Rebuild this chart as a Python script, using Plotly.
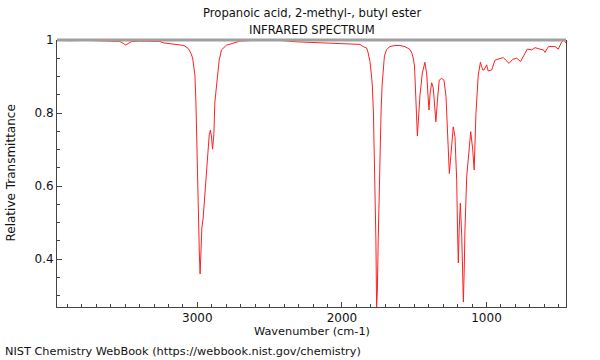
import plotly.graph_objects as go

# Wavenumber (cm-1) and relative transmittance
wavenumber = [
    3970, 3882, 3778, 3675, 3571, 3536, 3509, 3495, 3481, 3453, 3398, 3329, 3260, 3232, 3190,
    3149, 3121, 3093, 3064, 3045, 3033, 3024, 3017, 3010, 3001, 2992, 2986, 2981, 2976, 2969,
    2960, 2948, 2932, 2918, 2910, 2903, 2895, 2886, 2879, 2867, 2849, 2833, 2798, 2754, 2706,
    2602, 2521, 2429, 2314, 2187, 2083, 1945, 1876, 1853, 1829, 1820, 1806, 1796, 1790, 1782,
    1772, 1765, 1760, 1755, 1749, 1743, 1736, 1729, 1722, 1714, 1706, 1691, 1668, 1633, 1599,
    1564, 1529, 1516, 1507, 1498, 1491, 1484, 1478, 1471, 1460, 1444, 1426, 1414, 1405, 1398,
    1389, 1379, 1368, 1358, 1350, 1339, 1327, 1310, 1294, 1280, 1269, 1257, 1249, 1241, 1230,
    1218, 1206, 1201, 1195, 1189, 1181, 1171, 1166, 1160, 1154, 1149, 1137, 1126, 1109, 1095,
    1085, 1073, 1064, 1057, 1042, 1026, 1017, 999, 988, 964, 941, 907, 884, 867, 844,
    819, 791, 764, 746, 718, 687, 664, 630, 607, 595, 572, 526, 503, 480, 464, 452,
]
transmittance = [
    0.999, 0.998, 0.999, 0.997, 0.997, 0.996, 0.990, 0.986, 0.990, 0.996, 0.997, 0.997, 0.996, 0.992, 0.990,
    0.989, 0.988, 0.985, 0.977, 0.964, 0.951, 0.929, 0.904, 0.830, 0.649, 0.501, 0.411, 0.359, 0.397, 0.485,
    0.512, 0.575, 0.666, 0.740, 0.753, 0.737, 0.701, 0.740, 0.830, 0.885, 0.945, 0.973, 0.986, 0.991, 0.997,
    0.999, 1.000, 0.999, 0.995, 0.993, 0.991, 0.989, 0.988, 0.982, 0.978, 0.967, 0.941, 0.904, 0.877, 0.800,
    0.640, 0.452, 0.268, 0.315, 0.452, 0.589, 0.699, 0.808, 0.877, 0.929, 0.956, 0.974, 0.982, 0.985, 0.985,
    0.982, 0.974, 0.964, 0.951, 0.929, 0.877, 0.795, 0.737, 0.781, 0.849, 0.909, 0.939, 0.909, 0.849, 0.808,
    0.858, 0.883, 0.868, 0.822, 0.776, 0.836, 0.890, 0.895, 0.890, 0.845, 0.753, 0.634, 0.671, 0.708, 0.762,
    0.735, 0.616, 0.493, 0.389, 0.479, 0.553, 0.461, 0.370, 0.282, 0.370, 0.479, 0.625, 0.680, 0.749, 0.699,
    0.644, 0.799, 0.863, 0.904, 0.939, 0.918, 0.918, 0.932, 0.915, 0.918, 0.945, 0.948, 0.952, 0.945, 0.936,
    0.947, 0.950, 0.941, 0.954, 0.975, 0.973, 0.979, 0.975, 0.973, 0.966, 0.982, 0.982, 0.975, 0.995, 1.000, 0.992,
]

title_line1 = "Propanoic acid, 2-methyl-, butyl ester"
title_line2 = "INFRARED SPECTRUM"
x_title = "Wavenumber (cm-1)"
y_title = "Relative Transmittance"
footer = "NIST Chemistry WebBook (https://webbook.nist.gov/chemistry)"

x_range = [3971, 450]
y_range = [0.2685, 1.0]

FONT = "DejaVu Sans"
AXIS_COLOR = "#444444"
TEXT_COLOR = "#111111"

fig = go.Figure()
fig.add_trace(go.Scatter(
    x=wavenumber, y=transmittance, mode="lines",
    line=dict(color="#ff2020", width=1),
    hoverinfo="x+y", showlegend=False,
))

fig.update_layout(
    width=600, height=360,
    margin=dict(l=57, r=34, t=40, b=53),
    paper_bgcolor="white", plot_bgcolor="white",
    font=dict(family=FONT, size=12, color=TEXT_COLOR),
    xaxis=dict(
        range=x_range, showgrid=False, zeroline=False,
        showline=True, linecolor=AXIS_COLOR, linewidth=1, mirror=False,
        tickmode="linear", tick0=0, dtick=1000,
        ticks="inside", ticklen=5, tickcolor=AXIS_COLOR, tickwidth=1,
        minor=dict(dtick=100, tick0=0, ticks="inside", ticklen=3, tickcolor=AXIS_COLOR, showgrid=False),
        tickfont=dict(family=FONT, size=12, color=TEXT_COLOR),
    ),
    yaxis=dict(
        range=y_range, showgrid=False, zeroline=False,
        showline=True, linecolor=AXIS_COLOR, linewidth=1, mirror=True,
        tickmode="linear", tick0=0, dtick=0.2,
        ticks="inside", ticklen=5, tickcolor=AXIS_COLOR, tickwidth=1,
        minor=dict(dtick=0.05, tick0=0, ticks="inside", ticklen=3, tickcolor=AXIS_COLOR, showgrid=False),
        tickfont=dict(family=FONT, size=12, color=TEXT_COLOR),
    ),
    shapes=[dict(type="line", xref="paper", yref="paper", x0=0, x1=1, y0=1, y1=1,
                 line=dict(color="#a0a0a0", width=3), layer="above")],
    annotations=[
        dict(text=title_line1, xref="paper", yref="paper", x=0.5, y=1.101, xanchor="center", yanchor="middle",
             showarrow=False, font=dict(family=FONT, size=11.6, color=TEXT_COLOR)),
        dict(text=title_line2, xref="paper", yref="paper", x=0.5, y=1.037, xanchor="center", yanchor="middle",
             showarrow=False, font=dict(family=FONT, size=11.6, color=TEXT_COLOR)),
        dict(text=x_title, xref="paper", yref="paper", x=0.5, y=-0.0899, xanchor="center", yanchor="middle",
             showarrow=False, font=dict(family=FONT, size=11.3, color=TEXT_COLOR)),
        dict(text=y_title, xref="paper", yref="paper", x=-0.0923, y=0.5, xanchor="center", yanchor="middle",
             textangle=-90, showarrow=False, font=dict(family=FONT, size=12, color=TEXT_COLOR)),
        dict(text=footer, xref="paper", yref="paper", x=-0.106, y=-0.1685, xanchor="left", yanchor="middle",
             showarrow=False, font=dict(family=FONT, size=11.3, color=TEXT_COLOR)),
    ],
)

fig.write_html("out.html", config={"displayModeBar": False},
               post_script="document.body.style.margin='0';")
